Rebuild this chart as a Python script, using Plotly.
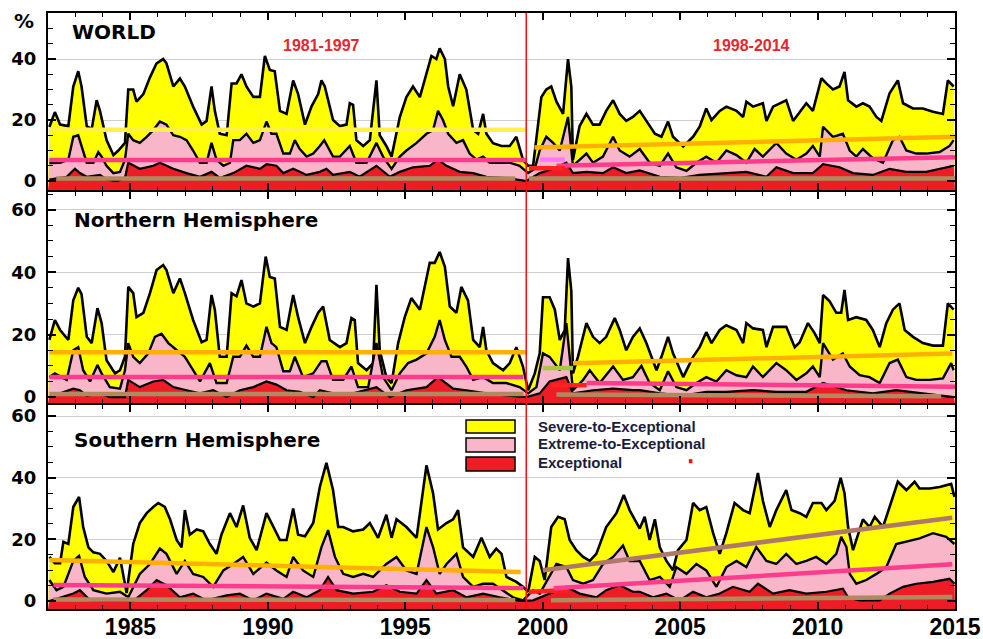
import plotly.graph_objects as go

# ----------------------------- DATA -----------------------------
# WORLD
world_sev_t = [1982.05,1982.25,1982.44,1982.74,1982.92,1983.10,1983.22,1983.41,1983.59,1983.77,1983.89,1984.13,1984.38,1984.56,1984.80,1984.92,1985.10,1985.22,1985.47,1985.71,1985.95,1986.19,1986.31,1986.56,1986.80,1986.98,1987.28,1987.59,1987.77,1987.95,1988.07,1988.25,1988.50,1988.68,1988.86,1989.04,1989.22,1989.47,1989.71,1989.89,1990.07,1990.25,1990.44,1990.68,1990.92,1991.10,1991.35,1991.59,1991.83,1991.95,1992.07,1992.37,1992.62,1992.86,1992.98,1993.10,1993.22,1993.47,1993.71,1993.95,1994.07,1994.31,1994.50,1994.80,1995.04,1995.28,1995.53,1995.77,1995.95,1996.13,1996.25,1996.44,1996.56,1996.74,1996.98,1997.22,1997.47,1997.65,1997.83,1997.95,1998.19,1998.50,1998.80,1999.04,1999.28,1999.47,1999.65,1999.83,1999.95,2000.13,2000.31,2000.50,2000.74,2000.92,2001.04,2001.10,2001.34,2001.59,2001.83,2002.07,2002.31,2002.56,2002.80,2003.04,2003.28,2003.53,2003.77,2004.08,2004.32,2004.56,2004.74,2005.11,2005.47,2005.71,2005.95,2006.14,2006.44,2006.68,2007.05,2007.29,2007.41,2007.65,2008.01,2008.14,2008.38,2008.62,2008.86,2009.11,2009.35,2009.59,2009.83,2010.14,2010.32,2010.56,2010.80,2010.98,2011.11,2011.41,2011.65,2011.89,2012.14,2012.32,2012.62,2012.92,2013.11,2013.47,2013.83,2014.20,2014.56,2014.74,2014.95]
world_sev_v = [17.7,22.6,18.5,18,31,36,31,18,17,26.5,23,13.4,8.5,10,12.5,30,30,26,28.5,34,38.6,40,38.6,31,33.6,31,24.4,18.5,19.7,31,23,15.5,15,32,32,35,31,27.6,27.6,41,36.4,36,23,22,33,28.5,18.5,24.5,28.5,33,31,20,18,18.5,25.5,25,13.4,11.5,13.4,33,15,11.5,8,21,27.5,31,27.5,35,41,40,43.5,40,31,24.5,35,30,16.7,15.5,22,15.5,12.4,11.5,11.5,14.5,7,5,5,18.5,27.5,30,31,26,22,40,31,7,18,22,18.5,18.5,23,26.5,22,19.7,21,23,19.7,15.5,14.5,19.5,14.5,11.3,14.5,17.8,23.8,20,23,24.4,23,21,26,24.4,25.5,19.7,24.4,25.5,26.5,19.7,22.5,25.5,23,33.7,32,30,31,35.8,26.5,24.4,25.5,24.4,21,19.7,28.8,33,25.5,23.8,23.8,22.7,22,33,31]

world_ext_t = [1982.05,1982.44,1982.74,1982.92,1983.10,1983.28,1983.41,1983.65,1983.83,1983.95,1984.13,1984.38,1984.62,1984.80,1984.92,1985.10,1985.34,1985.59,1985.83,1986.07,1986.31,1986.56,1986.80,1987.04,1987.28,1987.53,1987.77,1987.95,1988.13,1988.38,1988.62,1988.74,1988.98,1989.22,1989.47,1989.71,1989.95,1990.13,1990.31,1990.56,1990.80,1990.98,1991.16,1991.41,1991.65,1991.89,1992.05,1992.37,1992.62,1992.98,1993.22,1993.59,1993.95,1994.19,1994.50,1994.80,1995.04,1995.41,1995.77,1996.01,1996.19,1996.37,1996.56,1996.86,1997.10,1997.34,1997.59,1997.83,1998.07,1998.44,1998.80,1999.16,1999.47,1999.71,1999.89,2000.13,2000.38,2000.62,2000.92,2001.10,2001.34,2001.59,2001.83,2002.19,2002.56,2002.80,2003.16,2003.53,2003.89,2004.26,2004.56,2004.86,2005.23,2005.59,2005.95,2006.32,2006.68,2007.05,2007.41,2007.71,2008.01,2008.50,2008.86,2009.23,2009.59,2009.83,2010.08,2010.20,2010.56,2010.92,2011.17,2011.41,2011.65,2012.01,2012.38,2012.74,2012.98,2013.23,2013.59,2013.95,2014.44,2014.80,2014.95]
world_ext_v = [5.9,6,7,14.5,15,10,6,6,9.5,8,5,2.6,3,7,15.5,13.4,12.5,14.5,16.7,19.5,18.5,15,14.5,13.4,10,6,6,12.5,7,5,6,13.4,13.4,15.5,12.5,13.4,19.5,15.5,15.5,9,9,13.4,10.5,8,9,11.5,13.4,8,8,11.5,6,6,12.5,8,4,8,10,12.5,15.5,16.7,23,20,15.5,12.5,13.4,9,7,8,6,6,6,5,2.6,4,10,14.5,12.5,10,21,5,7,9,6,8,14.5,10,8,10.5,6,5,9,4.5,3.3,6,8,6,10,8.5,6,10.5,8,12.5,9,7,9,11.5,8,17.8,14.5,15.5,10,8,10.5,7.5,6,13.4,14.5,10,9,9,9.5,11.5,13.4]

world_exc_t = [1982.05,1982.68,1982.98,1983.16,1983.41,1983.89,1984.13,1984.50,1984.80,1984.92,1985.34,1985.83,1986.07,1986.56,1987.04,1987.53,1987.95,1988.25,1988.74,1989.22,1989.71,1989.95,1990.31,1990.56,1990.92,1991.41,1991.89,1992.13,1992.37,1992.98,1993.34,1993.95,1994.44,1994.80,1995.28,1995.89,1996.19,1996.50,1996.98,1997.47,1997.95,1998.68,1999.41,1999.89,2000.38,2000.86,2001.10,2001.59,2002.19,2002.56,2003.04,2003.53,2004.26,2004.98,2005.71,2006.56,2007.41,2008.14,2008.50,2009.11,2009.83,2010.20,2010.80,2011.29,2012.01,2012.62,2013.23,2013.95,2014.68,2014.95]
world_exc_v = [0.5,1.4,4,2.6,1.4,2,0.5,0,1,6,4,5,6,4,2.6,1.4,3,1,2.6,5,4,5.5,5,2.6,4,2,3,4,2,3,1.4,5,1.4,3,4.5,5,7,5,3,2.6,1.4,1,0,2.6,4,6,2.6,3,2.6,4.5,2.6,3.5,1.4,1,2,2.6,3,1.4,4.5,2.6,2.6,5.5,4.5,2.6,2,4,3,3,4.5,5]

# NORTHERN HEMISPHERE
nh_sev_t = [1982.05,1982.25,1982.44,1982.74,1982.92,1983.10,1983.22,1983.41,1983.59,1983.80,1983.95,1984.13,1984.44,1984.62,1984.80,1984.92,1985.10,1985.22,1985.47,1985.71,1985.95,1986.19,1986.31,1986.56,1986.80,1986.98,1987.28,1987.59,1987.77,1987.95,1988.07,1988.25,1988.50,1988.68,1988.86,1989.04,1989.22,1989.47,1989.71,1989.92,1990.07,1990.25,1990.44,1990.68,1990.92,1991.10,1991.35,1991.59,1991.83,1992.01,1992.25,1992.62,1992.86,1993.04,1993.16,1993.28,1993.59,1993.83,1993.95,1994.07,1994.31,1994.50,1994.74,1994.98,1995.22,1995.53,1995.89,1996.07,1996.25,1996.44,1996.62,1996.86,1997.04,1997.28,1997.47,1997.71,1997.83,1997.95,1998.19,1998.56,1998.80,1999.04,1999.28,1999.47,1999.71,1999.89,2000.01,2000.25,2000.44,2000.62,2000.80,2000.92,2001.04,2001.10,2001.28,2001.59,2001.83,2002.07,2002.31,2002.62,2002.80,2003.04,2003.28,2003.53,2003.77,2004.14,2004.32,2004.56,2004.74,2005.11,2005.47,2005.71,2005.95,2006.14,2006.44,2006.68,2007.05,2007.29,2007.41,2007.65,2008.01,2008.14,2008.38,2008.62,2008.86,2009.17,2009.35,2009.65,2009.89,2010.08,2010.20,2010.44,2010.68,2010.86,2010.98,2011.11,2011.41,2011.77,2012.01,2012.26,2012.50,2012.74,2012.98,2013.17,2013.47,2013.83,2014.20,2014.56,2014.74,2014.95]
nh_sev_v = [18.3,24.7,21.5,18.3,31,35,33,19.3,17.3,28.5,23.7,11.8,7.6,8.6,12.9,35.3,33.3,25.6,27,33.3,40.7,42.3,40.7,33.3,38,33.3,24.7,17.6,18.3,32.7,28,12.9,12.9,33.3,32.3,37.5,30,29,30,45,38.5,38,22.5,21.5,32.7,25.6,17.3,22.5,27,29,18.3,16,17.3,25.3,24.7,10.9,8.6,10.9,36,15,6.4,4.5,17.3,25.6,31.7,28,43,43,46.5,41.7,29,27,35.3,31,18.3,16,22.5,15,10.9,8.6,10.9,16,9.8,2.2,7.6,14,32,32,28,18.3,21.5,44.5,34,7.6,12.9,23.7,19.3,17.3,19.3,25.3,21.5,15,19.3,22,17.3,8.6,12.9,19.3,14,6.4,12.9,16,20.8,17.3,21.5,23,21.5,17.3,23.7,22,21.5,16,22.5,22.5,22.5,16,17.6,23.7,20.5,17.3,32.7,30.7,27,27,34.3,24.7,25.6,24.7,21.5,16,23.7,28,30,21.5,19.3,17.3,16.5,16.5,30,28]

nh_ext_t = [1982.05,1982.25,1982.68,1982.92,1983.10,1983.28,1983.53,1983.80,1983.95,1984.25,1984.62,1984.80,1984.92,1985.10,1985.34,1985.65,1985.89,1986.13,1986.38,1986.68,1986.98,1987.28,1987.53,1987.89,1988.13,1988.50,1988.74,1988.98,1989.22,1989.47,1989.71,1989.95,1990.13,1990.31,1990.56,1990.80,1990.98,1991.28,1991.65,1991.95,1992.13,1992.37,1992.74,1993.04,1993.28,1993.65,1993.95,1994.19,1994.50,1994.80,1995.10,1995.41,1995.77,1996.07,1996.25,1996.44,1996.68,1996.98,1997.22,1997.47,1997.83,1998.19,1998.68,1999.16,1999.47,1999.77,2000.01,2000.25,2000.62,2000.86,2001.10,2001.47,2001.71,2002.07,2002.56,2002.92,2003.28,2003.59,2003.89,2004.26,2004.56,2004.86,2005.23,2005.59,2005.95,2006.32,2006.68,2007.05,2007.41,2007.65,2008.01,2008.50,2008.86,2009.23,2009.59,2009.83,2010.08,2010.20,2010.56,2010.92,2011.17,2011.53,2011.89,2012.26,2012.62,2012.92,2013.23,2013.59,2014.08,2014.56,2014.86,2014.95]
nh_ext_v = [6.4,7.6,5.5,15,16,8.6,5,10.3,7.6,3.2,2.7,8.6,17.3,12.9,10.9,14,19.3,20.3,17.3,15,12.9,8.6,5,10.9,4.5,4.5,12.9,12.9,16.5,12.9,12.9,22.5,17.3,16,8.3,8.3,12.9,6.4,7.6,11.5,11.5,5.5,5.5,9.8,3.2,3.2,17.3,6.4,2.2,7.6,10.9,12,14,19.3,24.7,18.3,12.9,12.9,9.8,5.5,6.4,4.5,4.5,3.2,1.2,3.2,14,12.9,8.6,23.7,2.2,5.5,8.6,4.5,9.8,5.5,6.4,10,4.5,2.2,8.3,3.2,2.2,4.5,6.4,5,8.6,7,6.4,9.8,6.4,10.9,8.6,5.5,7.6,9.8,6.4,17.3,12,14,9.8,7,6.4,4.5,10.9,12,6.4,5.5,5.5,6,10.9,8.6]

nh_exc_t = [1982.05,1982.92,1983.16,1983.41,1983.89,1984.25,1984.80,1984.92,1985.34,1985.83,1986.19,1986.56,1987.04,1987.53,1988.01,1988.50,1988.98,1989.47,1989.95,1990.31,1990.68,1991.16,1991.65,1991.89,1992.37,1993.10,1993.95,1994.44,1995.04,1995.77,1996.19,1996.74,1997.22,1997.95,1998.68,1999.41,1999.89,2000.25,2000.86,2001.10,2001.83,2002.56,2003.28,2003.53,2004.26,2005.11,2005.95,2006.68,2007.65,2008.50,2009.59,2010.20,2011.05,2012.01,2012.86,2013.83,2014.95]
nh_exc_v = [0,2.7,2.2,0.5,1.2,0,0,5.5,3.2,5,5.5,3.2,2.2,1.2,2.2,0,2.2,3.2,5,4,2.2,1.7,0,2.2,1.2,1.2,3.2,0,2.2,3.2,6.4,2.7,2.2,1.2,0.5,0,1.2,5,6.4,1.2,2.2,2.7,2.2,2.2,1.2,0.5,1.7,1.7,2.2,1.7,1.7,4.5,2.2,1.2,2.2,1.2,0]

# SOUTHERN HEMISPHERE
sh_sev_t = [1982.05,1982.25,1982.44,1982.56,1982.74,1982.92,1983.13,1983.28,1983.47,1983.65,1983.89,1984.13,1984.38,1984.62,1984.86,1985.10,1985.34,1985.59,1985.83,1986.01,1986.25,1986.44,1986.68,1986.86,1986.98,1987.16,1987.41,1987.65,1987.89,1988.13,1988.31,1988.62,1988.86,1989.10,1989.34,1989.59,1989.95,1990.19,1990.44,1990.68,1990.92,1991.10,1991.35,1991.65,1991.89,1992.13,1992.37,1992.56,1992.74,1993.10,1993.47,1993.71,1994.01,1994.31,1994.50,1994.68,1995.04,1995.41,1995.77,1996.01,1996.19,1996.50,1996.74,1996.92,1997.10,1997.47,1997.77,1998.07,1998.31,1998.50,1998.68,1999.04,1999.28,1999.47,1999.71,1999.89,2000.07,2000.31,2000.56,2000.80,2000.98,2001.22,2001.47,2001.71,2001.95,2002.31,2002.68,2002.95,2003.16,2003.53,2003.71,2003.89,2004.08,2004.26,2004.50,2004.74,2004.92,2005.23,2005.47,2005.71,2005.95,2006.20,2006.44,2006.68,2006.98,2007.29,2007.53,2007.83,2008.01,2008.26,2008.50,2008.86,2009.05,2009.35,2009.59,2009.83,2010.14,2010.32,2010.62,2010.84,2010.98,2011.11,2011.29,2011.65,2011.89,2012.08,2012.38,2012.62,2012.92,2013.23,2013.53,2013.71,2014.08,2014.44,2014.86,2014.98]
sh_sev_v = [14.3,12.3,12.3,19.2,18.5,30.5,33.8,24,17.4,15.8,15.3,13,9.4,14,2.6,18.5,25.3,28.5,30.5,31.8,30.5,26.5,19.8,17.4,29.5,21.5,23.2,22.6,18.5,15.3,21.5,28.5,24,31,20.5,16.5,28.5,24,19.8,19.8,30,21.5,21,25.3,37,44.8,36,24,24,22.6,23.2,25.3,20.5,28,20.5,26.5,24,20.5,44,35,23.2,25.3,26.5,29.5,17.4,14.3,20.5,14.3,17,15.3,7.8,6.2,4.6,3,14.3,13,6.8,24,27.3,26.5,19.8,16.5,14.3,13,15.3,24,28.5,34.4,29.5,23.5,27.3,19.8,26.5,17.4,13,10,16.5,19.8,31.8,29.5,30.5,22,15.3,22,31.8,29.5,28.5,41.5,32.5,24,29.5,36,29.5,28.5,27.3,31.8,31.8,29.5,32.5,40,35,24,16.5,26.5,24,27.3,24,30.5,38.7,36,38.7,36.5,36.5,37,38,33.8]

sh_ext_t = [1982.05,1982.31,1982.56,1982.92,1983.13,1983.34,1983.65,1984.13,1984.62,1984.92,1985.34,1985.71,1986.07,1986.31,1986.68,1986.98,1987.28,1987.65,1988.01,1988.38,1988.74,1989.10,1989.47,1989.95,1990.31,1990.68,1990.92,1991.28,1991.65,1991.95,1992.19,1992.44,1992.74,1993.10,1993.47,1993.83,1994.31,1994.68,1995.04,1995.41,1995.77,1996.01,1996.25,1996.50,1996.86,1997.10,1997.47,1997.83,1998.19,1998.56,1998.92,1999.28,1999.65,1999.89,2000.25,2000.50,2000.86,2001.10,2001.47,2001.83,2002.19,2002.56,2002.92,2003.16,2003.53,2003.89,2004.26,2004.62,2004.86,2005.23,2005.59,2005.95,2006.32,2006.68,2007.05,2007.41,2007.77,2008.14,2008.50,2008.86,2009.23,2009.59,2009.95,2010.32,2010.68,2010.86,2011.05,2011.17,2011.41,2011.77,2012.14,2012.50,2012.86,2013.23,2013.71,2014.20,2014.68,2014.98]
sh_ext_v = [6.8,3.5,4.6,13,14.6,7.8,3.5,2.4,3,1.2,8.8,12,17,15.3,8.8,13,8.8,7.8,4.6,9.9,12,14.3,8.8,12.5,9.9,7.8,14.3,9.9,7.8,17.5,23,14.3,8.8,7.8,8.8,7.8,12,14.3,9.9,8.8,24,17.5,8.8,12,15.3,7.8,4.6,5.6,5.6,3.5,1.2,0.2,3.5,2.4,7.8,12,11,6.8,5.6,6.8,12,14.3,18,13,13,6.8,7.8,4.6,11,8.8,12,9.9,4.6,11,13,11,17.5,13,12,15.3,12,13,14.3,12,15.3,20.8,17.5,8.8,5.6,6.8,8.8,11,18.5,19.2,20.3,22,20.8,18.5]

sh_exc_t = [1982.05,1982.92,1983.16,1983.53,1984.25,1985.10,1985.59,1985.95,1986.31,1986.80,1987.28,1987.77,1988.50,1988.98,1989.47,1989.95,1990.56,1990.92,1991.41,1991.89,1992.19,1992.50,1993.10,1993.83,1994.31,1994.80,1995.41,1995.77,1996.13,1996.74,1997.22,1997.83,1998.44,1999.16,1999.65,2000.38,2000.86,2001.34,2001.95,2002.31,2002.80,2003.28,2003.53,2004.01,2004.50,2004.98,2005.47,2005.95,2006.44,2006.92,2007.53,2007.83,2008.38,2008.98,2009.59,2010.32,2010.92,2011.11,2011.53,2012.26,2012.62,2013.11,2013.59,2014.20,2014.80,2014.98]
sh_exc_v = [0,2.4,3.5,0.2,0,0,3.5,6.8,5.1,1.2,2.4,0.2,1.8,2.4,0.2,2.4,0.7,3,1.2,3.5,7.8,3.5,2.4,3,5.1,3,2.4,6.8,2.4,3.5,1.2,2.4,1.2,0,0.2,3,4.6,2.4,1.2,3.5,5.1,3,3,1.2,2.4,0.2,3,1.2,2.4,4.6,3,5.6,2.4,3.5,2.4,3,4,1.2,0.2,0.2,2.4,4.6,5.6,6.2,7.2,5.6]

# Trend lines: (start year, end year, start %, end %, colour)
world_trends = [
    (1982.05, 1999.40, 16.8, 16.8, "#FFF04A"),
    (1999.70, 2015.00, 11.0, 14.5, "#FFB000"),
    (1982.05, 1999.40, 6.9, 6.9, "#FF3C8C"),
    (1999.90, 2000.80, 7.0, 7.0, "#FF77FF"),
    (2000.50, 2015.00, 5.0, 7.8, "#FF3C8C"),
    (1999.50, 2000.80, 4.2, 4.2, "#FF2020"),
    (1982.30, 1999.00, 0.8, 0.8, "#B08A5E"),
    (1999.50, 2015.00, 0.8, 0.8, "#B08A5E"),
]
nh_trends = [
    (1982.05, 1999.40, 14.4, 14.4, "#FFB000"),
    (2000.00, 2001.10, 9.3, 9.3, "#A8C840"),
    (2001.10, 2014.90, 10.8, 14.0, "#FFB000"),
    (1982.05, 1999.30, 6.4, 6.4, "#FF3C8C"),
    (2001.60, 2015.00, 4.5, 3.3, "#FF3C8C"),
    (2000.30, 2001.60, 3.8, 3.8, "#FF2020"),
    (1982.05, 1999.30, 1.0, 1.0, "#B08A5E"),
    (2000.50, 2014.50, 0.8, 0.3, "#B08A5E"),
]
sh_trends = [
    (1982.05, 1999.20, 13.3, 9.4, "#FFB000"),
    (1982.20, 1999.30, 5.2, 4.2, "#FF3C8C"),
    (1982.20, 1999.00, 0.5, 0.3, "#B08A5E"),
    (1999.50, 2000.90, 3.0, 3.5, "#FF2020"),
    (2000.00, 2014.90, 10.0, 27.0, "#B0786A"),
    (2000.40, 2014.90, 4.1, 11.9, "#FF3C8C"),
    (2000.30, 2014.90, 0.2, 1.3, "#B08A5E"),
]

panel_titles = ["WORLD", "Northern Hemisphere", "Southern Hemisphere"]
period_labels = ["1981-1997", "1998-2014"]
legend_labels = ["Severe-to-Exceptional", "Extreme-to-Exceptional", "Exceptional"]
break_year = 1999.4
x_ticks = [1985, 1990, 1995, 2000, 2005, 2010, 2015]

# ----------------------------- STYLE -----------------------------
YELLOW = "#FFFF00"
PINK = "#F9B6C9"
RED = "#EE1C25"

panels = [
    dict(sev=(world_sev_t, world_sev_v), ext=(world_ext_t, world_ext_v), exc=(world_exc_t, world_exc_v),
         trends=world_trends, yrange=[-2.95, 55.1], domain=[0.703, 1.0], ticks=[0, 20, 40]),
    dict(sev=(nh_sev_t, nh_sev_v), ext=(nh_ext_t, nh_ext_v), exc=(nh_exc_t, nh_exc_v),
         trends=nh_trends, yrange=[-1.9, 65.7], domain=[0.3456, 0.6997], ticks=[0, 20, 40, 60]),
    dict(sev=(sh_sev_t, sh_sev_v), ext=(sh_ext_t, sh_ext_v), exc=(sh_exc_t, sh_exc_v),
         trends=sh_trends, yrange=[-2.6, 63.6], domain=[0.0, 0.3423], ticks=[0, 20, 40, 60]),
]

fig = go.Figure()
X0, X1 = 1982.0, 2015.0

for i, p in enumerate(panels):
    sfx = "" if i == 0 else str(i + 1)
    xa, ya = "x" + sfx, "y" + sfx
    base = p["yrange"][0]
    for (t, v), fc, lw in [(p["sev"], YELLOW, 2.6), (p["ext"], PINK, 2.4), (p["exc"], RED, 2.2)]:
        fig.add_trace(go.Scatter(x=[X0, X1], y=[base, base], mode="lines", line=dict(width=0),
                                 xaxis=xa, yaxis=ya, showlegend=False, hoverinfo="skip"))
        fig.add_trace(go.Scatter(x=t, y=v, mode="lines", fill="tonexty", fillcolor=fc,
                                 line=dict(color="black", width=lw), xaxis=xa, yaxis=ya,
                                 showlegend=False, hoverinfo="skip"))
    for (t0, t1, v0, v1, col) in p["trends"]:
        fig.add_trace(go.Scatter(x=[t0, t1], y=[v0, v1], mode="lines",
                                 line=dict(color=col, width=4.5), xaxis=xa, yaxis=ya,
                                 showlegend=False, hoverinfo="skip"))

    xkey = "xaxis" + sfx
    ykey = "yaxis" + sfx
    fig.layout[xkey] = dict(
        domain=[0, 1], anchor=ya, range=[X0, X1], showgrid=False, zeroline=False, automargin=False,
        showline=True, linecolor="black", linewidth=2, mirror="ticks",
        ticks="inside", tickvals=x_ticks, ticklen=7, tickwidth=1.5, tickcolor="black",
        minor=dict(dtick=1, tick0=1982, ticks="inside", ticklen=4, tickcolor="black", tickwidth=1),
        showticklabels=(i == 2), ticklabelstandoff=-4,
        tickfont=dict(family="Liberation Sans", size=23, color="black", weight="bold"),
    )
    fig.layout[ykey] = dict(
        domain=p["domain"], anchor=xa, range=p["yrange"], zeroline=False, automargin=False,
        showgrid=True, gridcolor="#CFCFCF", gridwidth=1,
        showline=True, linecolor="black", linewidth=2, mirror="ticks",
        ticks="inside", tickvals=p["ticks"], ticklen=8, tickwidth=1.5, tickcolor="black",
        minor=dict(dtick=5, tick0=0, ticks="inside", ticklen=5, tickcolor="black", tickwidth=1, showgrid=False),
        tickfont=dict(family="DejaVu Sans", size=18, color="black", weight="bold"),
        ticklabelstandoff=6,
    )

# vertical break line
fig.add_shape(type="line", xref="x3", yref="paper", x0=break_year, x1=break_year, y0=0, y1=1,
              line=dict(color="#FF1010", width=1.5))

# panel titles
title_pos = [(0.0243, 0.968), (0.0265, 0.6527), (0.0265, 0.2836)]
for txt, (px, py) in zip(panel_titles, title_pos):
    fig.add_annotation(text=txt, x=px, y=py, xref="paper", yref="paper", xanchor="left", yanchor="middle",
                       showarrow=False, font=dict(family="DejaVu Sans", size=20, color="black", weight="bold"))

# period labels
for txt, px in zip(period_labels, [0.302, 0.776]):
    fig.add_annotation(text=txt, x=px, y=0.946, xref="paper", yref="paper", xanchor="center", yanchor="middle",
                       showarrow=False, font=dict(family="Liberation Sans", size=16, color="#E8262E", weight="bold"))

# % label
fig.add_annotation(text="%", x=-0.0265, y=0.9866, xref="paper", yref="paper", xanchor="center", yanchor="middle",
                   showarrow=False, font=dict(family="DejaVu Sans", size=20, color="black", weight="bold"))

# manual legend
leg_rows = [(0.2953, 0.3171, YELLOW, 0.307), (0.2634, 0.2869, PINK, 0.277), (0.2315, 0.2550, RED, 0.245)]
for (y0, y1, col, ty), lab in zip(leg_rows, legend_labels):
    fig.add_shape(type="rect", xref="paper", yref="paper", x0=0.4609, x1=0.5149, y0=y0, y1=y1,
                  fillcolor=col, line=dict(color="black", width=1.5))
    fig.add_annotation(text=lab, x=0.538, y=ty, xref="paper", yref="paper", xanchor="left", yanchor="middle",
                       showarrow=False, font=dict(family="Liberation Sans", size=15, color="#1C1C3C", weight="bold"))
fig.add_shape(type="rect", xref="paper", yref="paper", x0=0.7065, x1=0.7105, y0=0.2445, y1=0.2515,
              fillcolor="#FF1010", line=dict(width=0))

fig.update_layout(
    width=983, height=639, autosize=False,
    margin=dict(l=48, r=28, t=13, b=30, autoexpand=False),
    paper_bgcolor="white", plot_bgcolor="white",
    showlegend=False,
)

fig.write_html("out.html")
